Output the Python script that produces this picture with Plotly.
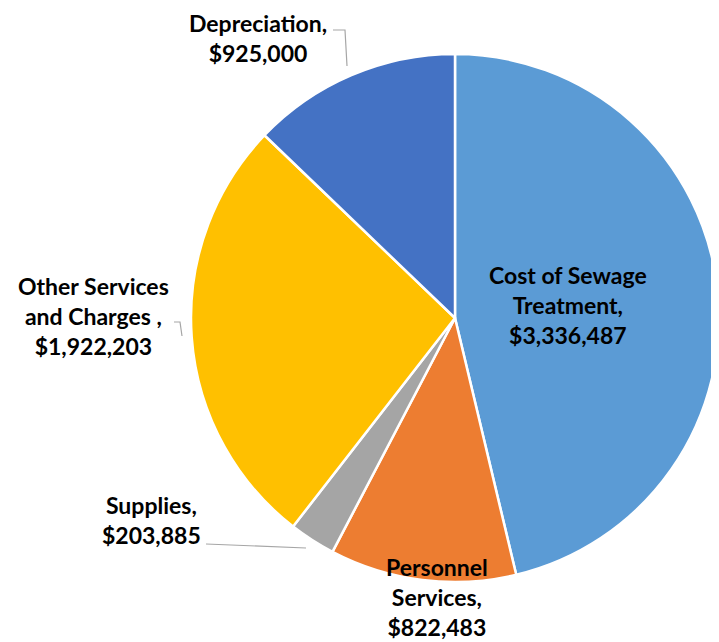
import plotly.graph_objects as go

categories = ["Cost of Sewage<br>Treatment,", "Personnel<br>Services,", "Supplies,", "Other Services<br>and Charges ,", "Depreciation,"]
values = [3336487, 822483, 203885, 1922203, 925000]
colors = ["#5B9BD5", "#ED7D31", "#A5A5A5", "#FFC000", "#4472C4"]

# the page body has an 8px default margin; the figure is sized to fill the rest
OFF = 8
W, H = 719 - OFF, 642 - OFF
fig = go.Figure(go.Pie(
    labels=categories, values=values, sort=False, direction="clockwise", rotation=0,
    marker=dict(colors=colors, line=dict(color="white", width=2.5)),
    textinfo="none", hoverinfo="label+value", showlegend=False,
    domain=dict(x=[0.2574, 1.0], y=[0.0946, 0.9274]),
))

def fx(x):
    return (x - OFF) / W

def fy(y):
    return 1 - (y - OFF) / H

# label centers in page pixels (x, y from top)
label_pos = [(568, 305), (437, 597), (151, 520), (93, 316), (258, 38)]
anns = []
for cat, v, (px, py) in zip(categories, values, label_pos):
    anns.append(dict(
        x=fx(px), y=fy(py), xref="paper", yref="paper",
        text=f"{cat}<br>${v:,}", showarrow=False,
        font=dict(family="Lato", size=23, color="black", weight="bold"),
        align="center", xanchor="center", yanchor="middle",
    ))

def path(pts):
    return " ".join(("M" if i == 0 else "L") + f"{fx(x)},{fy(y)}" for i, (x, y) in enumerate(pts))

leaders = [
    [(333, 30), (345, 30), (347, 66)],
    [(174, 322), (180, 322), (182, 336)],
    [(206, 544), (306, 548)],
]
shapes = [dict(type="path", xref="paper", yref="paper", path=path(p),
               line=dict(color="#A6A6A6", width=1.2)) for p in leaders]

fig.update_layout(width=W, height=H, margin=dict(l=0, r=0, t=0, b=0),
                  paper_bgcolor="white", plot_bgcolor="white",
                  annotations=anns, shapes=shapes)
fig.write_html("out.html")
